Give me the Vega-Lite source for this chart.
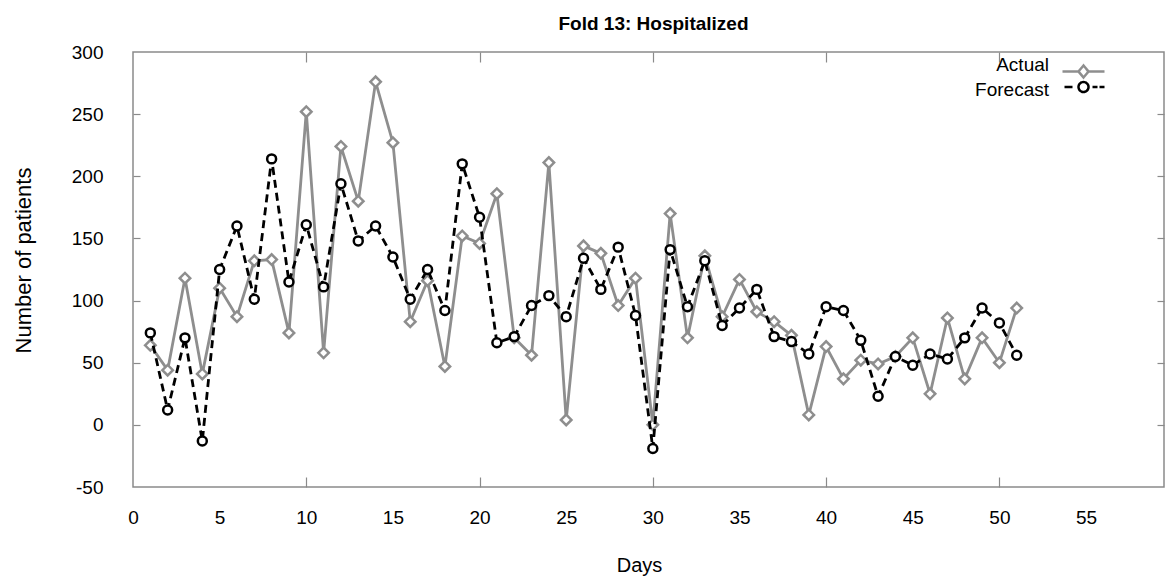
{
  "$schema": "https://vega.github.io/schema/vega-lite/v6.json",
  "autosize": {"type": "none"},
  "width": 1031,
  "height": 435,
  "padding": {"left": 133, "top": 52, "right": 1, "bottom": 90},
  "background": "white",
  "title": {"text": "Fold 13: Hospitalized", "font": "Liberation Sans", "fontSize": 19, "fontWeight": "bold", "color": "#000", "anchor": "middle", "frame": "group", "baseline": "alphabetic", "offset": -6, "dx": 5},
  "config": {
    "view": {"stroke": "#8a8a8a", "strokeWidth": 1.5},
    "axis": {"labelFont": "Liberation Sans", "titleFont": "Liberation Sans", "labelColor": "#000", "titleColor": "#000", "titleFontWeight": "normal", "grid": false, "domain": false, "tickColor": "#8a8a8a", "tickWidth": 1.2},
    "legend": {"title": null, "orient": "none", "padding": 0, "labelFont": "Liberation Sans", "labelFontSize": 19, "labelColor": "#000", "labelAlign": "right", "labelOffset": -44, "symbolSize": 100, "symbolStrokeWidth": 2.5}
  },
  "data": {"values": [
    {"day": 1, "series": "Actual", "value": 64}, {"day": 2, "series": "Actual", "value": 44}, {"day": 3, "series": "Actual", "value": 118}, {"day": 4, "series": "Actual", "value": 41}, {"day": 5, "series": "Actual", "value": 110},
    {"day": 6, "series": "Actual", "value": 87}, {"day": 7, "series": "Actual", "value": 132}, {"day": 8, "series": "Actual", "value": 133}, {"day": 9, "series": "Actual", "value": 74}, {"day": 10, "series": "Actual", "value": 252},
    {"day": 11, "series": "Actual", "value": 58}, {"day": 12, "series": "Actual", "value": 224}, {"day": 13, "series": "Actual", "value": 180}, {"day": 14, "series": "Actual", "value": 276}, {"day": 15, "series": "Actual", "value": 227},
    {"day": 16, "series": "Actual", "value": 83}, {"day": 17, "series": "Actual", "value": 116}, {"day": 18, "series": "Actual", "value": 47}, {"day": 19, "series": "Actual", "value": 152}, {"day": 20, "series": "Actual", "value": 146},
    {"day": 21, "series": "Actual", "value": 186}, {"day": 22, "series": "Actual", "value": 70}, {"day": 23, "series": "Actual", "value": 56}, {"day": 24, "series": "Actual", "value": 211}, {"day": 25, "series": "Actual", "value": 4},
    {"day": 26, "series": "Actual", "value": 144}, {"day": 27, "series": "Actual", "value": 138}, {"day": 28, "series": "Actual", "value": 96}, {"day": 29, "series": "Actual", "value": 118}, {"day": 30, "series": "Actual", "value": 0},
    {"day": 31, "series": "Actual", "value": 170}, {"day": 32, "series": "Actual", "value": 70}, {"day": 33, "series": "Actual", "value": 136}, {"day": 34, "series": "Actual", "value": 87}, {"day": 35, "series": "Actual", "value": 117},
    {"day": 36, "series": "Actual", "value": 91}, {"day": 37, "series": "Actual", "value": 83}, {"day": 38, "series": "Actual", "value": 72}, {"day": 39, "series": "Actual", "value": 8}, {"day": 40, "series": "Actual", "value": 63},
    {"day": 41, "series": "Actual", "value": 37}, {"day": 42, "series": "Actual", "value": 52}, {"day": 43, "series": "Actual", "value": 49}, {"day": 44, "series": "Actual", "value": 55}, {"day": 45, "series": "Actual", "value": 70},
    {"day": 46, "series": "Actual", "value": 25}, {"day": 47, "series": "Actual", "value": 86}, {"day": 48, "series": "Actual", "value": 37}, {"day": 49, "series": "Actual", "value": 70}, {"day": 50, "series": "Actual", "value": 50},
    {"day": 51, "series": "Actual", "value": 94},
    {"day": 1, "series": "Forecast", "value": 74}, {"day": 2, "series": "Forecast", "value": 12}, {"day": 3, "series": "Forecast", "value": 70}, {"day": 4, "series": "Forecast", "value": -13}, {"day": 5, "series": "Forecast", "value": 125},
    {"day": 6, "series": "Forecast", "value": 160}, {"day": 7, "series": "Forecast", "value": 101}, {"day": 8, "series": "Forecast", "value": 214}, {"day": 9, "series": "Forecast", "value": 115}, {"day": 10, "series": "Forecast", "value": 161},
    {"day": 11, "series": "Forecast", "value": 111}, {"day": 12, "series": "Forecast", "value": 194}, {"day": 13, "series": "Forecast", "value": 148}, {"day": 14, "series": "Forecast", "value": 160}, {"day": 15, "series": "Forecast", "value": 135},
    {"day": 16, "series": "Forecast", "value": 101}, {"day": 17, "series": "Forecast", "value": 125}, {"day": 18, "series": "Forecast", "value": 92}, {"day": 19, "series": "Forecast", "value": 210}, {"day": 20, "series": "Forecast", "value": 167},
    {"day": 21, "series": "Forecast", "value": 66}, {"day": 22, "series": "Forecast", "value": 71}, {"day": 23, "series": "Forecast", "value": 96}, {"day": 24, "series": "Forecast", "value": 104}, {"day": 25, "series": "Forecast", "value": 87},
    {"day": 26, "series": "Forecast", "value": 134}, {"day": 27, "series": "Forecast", "value": 109}, {"day": 28, "series": "Forecast", "value": 143}, {"day": 29, "series": "Forecast", "value": 88}, {"day": 30, "series": "Forecast", "value": -19},
    {"day": 31, "series": "Forecast", "value": 141}, {"day": 32, "series": "Forecast", "value": 95}, {"day": 33, "series": "Forecast", "value": 132}, {"day": 34, "series": "Forecast", "value": 80}, {"day": 35, "series": "Forecast", "value": 94},
    {"day": 36, "series": "Forecast", "value": 109}, {"day": 37, "series": "Forecast", "value": 71}, {"day": 38, "series": "Forecast", "value": 67}, {"day": 39, "series": "Forecast", "value": 57}, {"day": 40, "series": "Forecast", "value": 95},
    {"day": 41, "series": "Forecast", "value": 92}, {"day": 42, "series": "Forecast", "value": 68}, {"day": 43, "series": "Forecast", "value": 23}, {"day": 44, "series": "Forecast", "value": 55}, {"day": 45, "series": "Forecast", "value": 48},
    {"day": 46, "series": "Forecast", "value": 57}, {"day": 47, "series": "Forecast", "value": 53}, {"day": 48, "series": "Forecast", "value": 70}, {"day": 49, "series": "Forecast", "value": 94}, {"day": 50, "series": "Forecast", "value": 82},
    {"day": 51, "series": "Forecast", "value": 56}
  ]},
  "resolve": {"axis": {"x": "independent", "y": "independent"}},
  "layer": [
    {
      "transform": [{"filter": "datum.series === 'Actual'"}],
      "mark": {"type": "line", "strokeWidth": 2.8},
      "encoding": {
        "x": {"field": "day", "type": "quantitative", "scale": {"domain": [0, 59.5], "nice": false, "zero": false},
              "axis": {"orient": "bottom", "values": [0, 5, 10, 15, 20, 25, 30, 35, 40, 45, 50, 55], "ticks": false, "labelFontSize": 19, "labelPadding": 21, "labelFlush": false, "labelOverlap": false, "title": "Days", "titleFontSize": 20, "titlePadding": 28, "titleX": 506}},
        "y": {"field": "value", "type": "quantitative", "scale": {"domain": [-50, 300], "nice": false, "zero": false},
              "axis": {"orient": "left", "values": [-50, 0, 50, 100, 150, 200, 250, 300], "labelExpr": "'' + datum.value", "ticks": false, "labelFontSize": 19, "labelPadding": 30, "labelFlush": false, "labelOverlap": false, "title": "Number of patients", "titleFontSize": 22, "titlePadding": 36, "titleY": 208,
                "encode": {"labels": {"update": {"dy": {"signal": "datum.value === 300 ? 10 : datum.value === 0 ? 5 : datum.value === 50 ? 4 : datum.value === 100 ? 3 : datum.value === 150 ? 2 : 0"}}}}}},
        "color": {"field": "series", "type": "nominal", "scale": {"domain": ["Actual"], "range": ["#8e8e8e"]},
          "legend": {"legendX": 941, "legendY": 10,
            "encode": {"symbols": {"update": {"shape": {"value": "M-4.2,0H-1M0,-1.2L1,0L0,1.2L-1,0ZM1,0H4.2"}, "fill": {"value": "white"}, "strokeDash": {"value": [1, 0]}}},
                       "labels": {"update": {"dy": {"value": -7}}}}}}
      }
    },
    {
      "transform": [{"filter": "datum.series === 'Actual'"}],
      "mark": {"type": "point", "shape": "diamond", "size": 110, "filled": true, "fill": "white", "stroke": "#8e8e8e", "strokeWidth": 2.5, "opacity": 1},
      "encoding": {
        "x": {"field": "day", "type": "quantitative", "axis": {"orient": "top", "values": [10, 20, 30, 40, 50], "labels": false, "tickSize": -10, "title": null}},
        "y": {"field": "value", "type": "quantitative", "axis": {"orient": "right", "values": [0, 50, 100, 150, 200, 250], "labels": false, "tickSize": -7, "title": null}}
      }
    },
    {
      "transform": [{"filter": "datum.series === 'Forecast'"}],
      "mark": {"type": "line", "strokeWidth": 2.8, "strokeDash": [8, 5]},
      "encoding": {
        "x": {"field": "day", "type": "quantitative", "axis": {"orient": "bottom", "values": [10, 20, 30, 40, 50], "labels": false, "tickSize": -10, "title": null}},
        "y": {"field": "value", "type": "quantitative", "axis": {"orient": "left", "values": [0, 50, 100, 150, 200, 250], "labels": false, "tickSize": -7, "title": null}},
        "stroke": {"field": "series", "type": "nominal", "scale": {"domain": ["Forecast"], "range": ["#000000"]},
          "legend": {"legendX": 941, "legendY": 25.5,
            "encode": {"symbols": {"update": {"shape": {"value": "M-3.8,0H-2.2M-1,0A1,1 0 1,0 1,0A1,1 0 1,0 -1,0M1.8,0H2.8M3.2,0H4.2"}, "fill": {"value": "white"}, "strokeDash": {"value": [1, 0]}}},
                       "labels": {"update": {"dy": {"value": 3}}}}}}
      }
    },
    {
      "transform": [{"filter": "datum.series === 'Forecast'"}],
      "mark": {"type": "point", "shape": "circle", "size": 80, "filled": true, "fill": "white", "stroke": "#000000", "strokeWidth": 2.5, "opacity": 1},
      "encoding": {
        "x": {"field": "day", "type": "quantitative", "axis": null},
        "y": {"field": "value", "type": "quantitative", "axis": null}
      }
    }
  ]
}
